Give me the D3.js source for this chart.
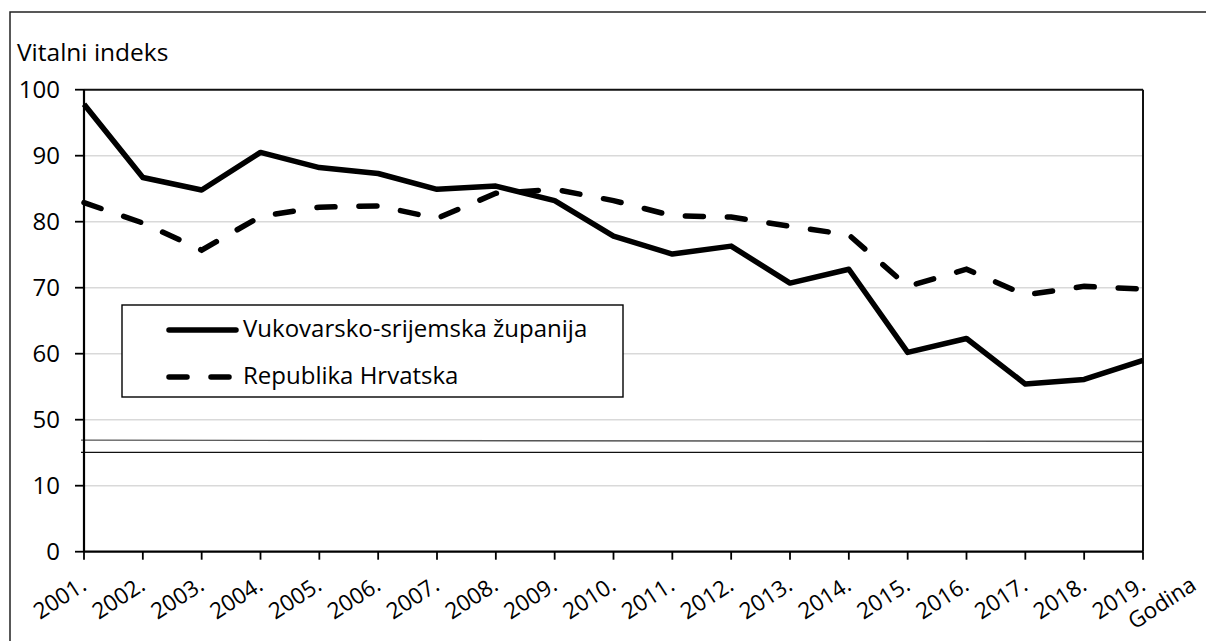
<!DOCTYPE html>
<html>
<head>
<meta charset="utf-8">
<script src="https://cdn.jsdelivr.net/npm/d3@7"></script>
<style>
  body { margin: 0; background: #fff; }
  svg { font-family: "Open Sans", sans-serif; }
</style>
</head>
<body>
<svg id="chart" width="1206" height="641"></svg>
<script>
// data
const years = ["2001.", "2002.", "2003.", "2004.", "2005.", "2006.", "2007.", "2008.", "2009.", "2010.",
  "2011.", "2012.", "2013.", "2014.", "2015.", "2016.", "2017.", "2018.", "2019."];
const vukovar = [97.8, 86.7, 84.8, 90.5, 88.2, 87.3, 84.9, 85.4, 83.2, 77.8,
  75.1, 76.3, 70.7, 72.8, 60.2, 62.3, 55.4, 56.1, 59.0];
const hrvatska = [82.9, 79.8, 75.7, 80.8, 82.2, 82.4, 80.5, 84.3, 84.9, 83.2,
  80.9, 80.7, 79.3, 78.0, 70.2, 72.8, 68.9, 70.2, 69.8];
const yTicks = [0, 10, 50, 60, 70, 80, 90, 100];
const seriesNames = ["Vukovarsko-srijemska županija", "Republika Hrvatska"];

const svg = d3.select("#chart");
const plotLeft = 84, plotRight = 1143, plotTop = 89.7, plotBottom = 551.7;

// axis is broken between 10 and 50: values from 50 up are shifted down by 30
const cut = v => v >= 50 ? v - 30 : v;
const yLin = d3.scaleLinear().domain([0, 70]).range([plotBottom, plotTop]);
const y = v => yLin(cut(v));
const x = d3.scalePoint().domain(years).range([plotLeft, plotRight]);
const step = x.step();

// outer frame
svg.append("rect")
  .attr("x", 10).attr("y", 12)
  .attr("width", 1220).attr("height", 660)
  .attr("fill", "none").attr("stroke", "#222").attr("stroke-width", 1.5);

svg.append("text")
  .attr("x", 17).attr("y", 61)
  .attr("font-size", 24.5)
  .text("Vitalni indeks");

// gridlines
svg.append("g").selectAll("line")
  .data(yTicks.filter(d => d > 0 && d < 100))
  .enter().append("line")
  .attr("x1", plotLeft).attr("x2", plotRight)
  .attr("y1", d => y(d)).attr("y2", d => y(d))
  .attr("stroke", "#d9d9d9").attr("stroke-width", 1.5);

// break lines
svg.append("line")
  .attr("x1", plotLeft - 3).attr("x2", plotRight)
  .attr("y1", yLin(16.9)).attr("y2", yLin(16.7))
  .attr("stroke", "#555").attr("stroke-width", 1.4);
svg.append("line")
  .attr("x1", plotLeft - 3).attr("x2", plotRight)
  .attr("y1", yLin(15.05)).attr("y2", yLin(15.05))
  .attr("stroke", "#111").attr("stroke-width", 1.4);

// plot border top + right
svg.append("line").attr("x1", plotLeft).attr("x2", plotRight).attr("y1", plotTop).attr("y2", plotTop)
  .attr("stroke", "#111").attr("stroke-width", 2);
svg.append("line").attr("x1", plotRight).attr("x2", plotRight).attr("y1", plotTop).attr("y2", plotBottom)
  .attr("stroke", "#111").attr("stroke-width", 2);

// y axis
const yAxis = svg.append("g");
yAxis.append("line").attr("x1", plotLeft).attr("x2", plotLeft).attr("y1", plotTop).attr("y2", plotBottom)
  .attr("stroke", "#000").attr("stroke-width", 2.2);
yAxis.selectAll(".tick").data(yTicks).enter().append("line")
  .attr("x1", plotLeft - 9).attr("x2", plotLeft)
  .attr("y1", d => y(d)).attr("y2", d => y(d))
  .attr("stroke", "#000").attr("stroke-width", 1.8);
yAxis.selectAll("text").data(yTicks).enter().append("text")
  .attr("x", plotLeft - 24).attr("y", d => y(d))
  .attr("dy", "0.35em")
  .attr("text-anchor", "end")
  .attr("font-size", 24)
  .text(d => d);

// x axis
const xAxis = svg.append("g");
xAxis.append("line").attr("x1", plotLeft).attr("x2", plotRight).attr("y1", plotBottom).attr("y2", plotBottom)
  .attr("stroke", "#000").attr("stroke-width", 2.2);
xAxis.selectAll(".tick").data(years).enter().append("line")
  .attr("x1", d => x(d)).attr("x2", d => x(d))
  .attr("y1", plotBottom).attr("y2", plotBottom + 8)
  .attr("stroke", "#000").attr("stroke-width", 1.8);
xAxis.selectAll("text").data(years.concat(["Godina"])).enter().append("text")
  .attr("transform", (d, i) => {
    const px = i < years.length ? x(d) + 4 : x(years[years.length - 1]) + step - 4;
    return `translate(${px},${plotBottom + 37}) rotate(-33)`;
  })
  .attr("text-anchor", "end")
  .attr("font-size", 22.5)
  .text(d => d);

// lines
const line = d3.line()
  .x((d, i) => x(years[i]))
  .y(d => y(d));

svg.append("path")
  .datum(hrvatska)
  .attr("d", line)
  .attr("fill", "none")
  .attr("stroke", "#000")
  .attr("stroke-width", 5.5)
  .attr("stroke-linecap", "round")
  .attr("stroke-dasharray", "18,24");

svg.append("path")
  .datum(vukovar)
  .attr("d", line)
  .attr("fill", "none")
  .attr("stroke", "#000")
  .attr("stroke-width", 5.5)
  .attr("stroke-linejoin", "round");

// legend
const lg = svg.append("g");
lg.append("rect")
  .attr("x", 122).attr("y", 305).attr("width", 501).attr("height", 92)
  .attr("fill", "#fff").attr("stroke", "#000").attr("stroke-width", 1.4);
seriesNames.forEach((name, i) => {
  const ly = 330 + i * 47;
  lg.append("line")
    .attr("x1", 169).attr("x2", 236)
    .attr("y1", ly).attr("y2", ly)
    .attr("stroke", "#000").attr("stroke-width", 5.5)
    .attr("stroke-linecap", "round")
    .attr("stroke-dasharray", i === 1 ? "18,24" : null);
  lg.append("text")
    .attr("x", 243).attr("y", ly)
    .attr("dy", "0.29em")
    .attr("font-size", 24)
    .text(name);
});
</script>
</body>
</html>
